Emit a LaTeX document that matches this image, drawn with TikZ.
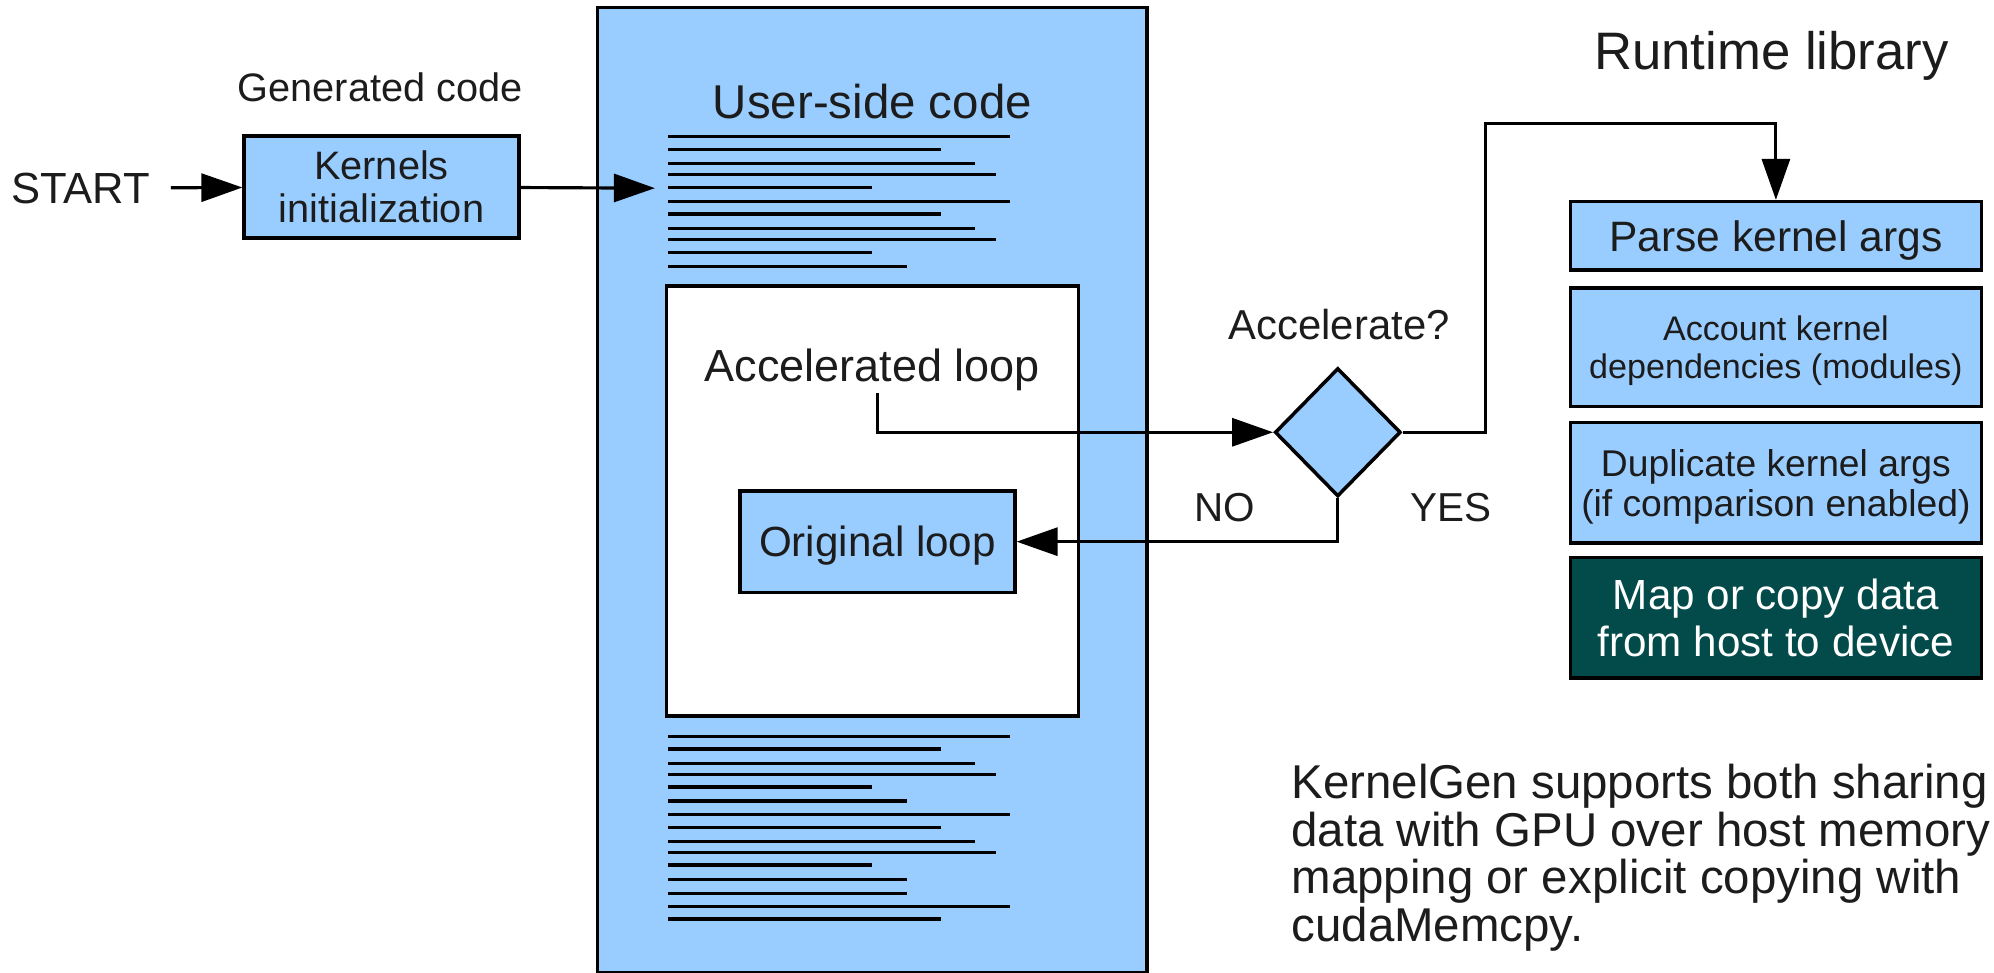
\documentclass[tikz,border=0pt]{standalone}
\usepackage{fontspec}
\setmainfont{Liberation Sans}
\usetikzlibrary{arrows.meta,shapes.geometric}
\definecolor{lightblu}{HTML}{99CCFF}
\definecolor{darkteal}{HTML}{024B4A}
\definecolor{txt}{HTML}{1C1C1C}
\def\fsz#1#2{\fontsize{#1}{#2}\selectfont}
\tikzset{
	blubox/.style={draw, line width=1pt, fill=lightblu, inner sep=0pt, align=center, text=txt},
	lbl/.style={text=txt, inner sep=0pt, align=center},
	arr/.style={-{Triangle[length=4.1mm,width=2.8mm]}, line width=0.9pt},
	codeln/.style={line width=1pt}
}

\begin{document}
\begin{tikzpicture}
		%%%%% START %%%%%
		\useasboundingbox (0, 0) rectangle (19.94, 9.728);
		
		% user-side code
		\draw[line width=1pt, fill=lightblu] (5.977, 0) rectangle (11.471, 9.652);
		\node[lbl, font=\fsz{13.5}{16}] (title) at (8.724, 8.711) {User-side code};
		\draw[line width=1pt, fill=white] (6.664, 2.569) rectangle (10.784, 6.867);
		\foreach \y/\e in {8.361/10.097, 8.232/9.411, 8.092/9.754, 7.981/9.957, 7.851/8.724,
			7.712/10.097, 7.586/9.411, 7.442/9.754, 7.331/9.957, 7.205/8.724, 7.062/9.067,
			2.362/10.097, 2.236/9.411, 2.092/9.754, 1.981/9.957, 1.858/8.724, 1.716/9.067,
			1.582/10.097, 1.455/9.411, 1.311/9.754, 1.202/9.957, 1.076/8.724, 0.932/9.067,
			0.795/9.067, 0.661/10.097, 0.538/9.411}
			\draw[codeln] (6.676, \y) -- (\e, \y);
		
		% generated code
		\node[lbl, font=\fsz{12.4}{14}] (start) at (0.808, 7.846) {START};
		\node[lbl, font=\fsz{11.3}{14}] (gen) at (3.802, 8.851) {Generated code};
		\node[blubox, minimum width=2.747cm, minimum height=1.018cm, font=\fsz{11.3}{12.3}] (kinit) at (3.815, 7.859) {Kernels\\initialization};
		\coordinate (codein) at (6.549, 7.846);
		\draw[arr, shorten <=2mm] (start) -- (kinit);
		\draw[arr] (kinit) -- (codein);
		
		% loops and decision
		\node[lbl, text depth=0pt, font=\fsz{12.8}{15}] (accl) at (8.724, 6.079) {Accelerated loop};
		\coordinate (accfoot) at (8.775, 5.799);
		\node[blubox, text depth=0pt, minimum width=2.747cm, minimum height=1.018cm, font=\fsz{12}{14}] (orig) at (8.775, 4.311) {Original loop};
		\node[draw, line width=1pt, fill=lightblu, diamond, inner sep=0pt, minimum width=1.259cm, minimum height=1.284cm] (dec) at (13.378, 5.405) {};
		\node[lbl, font=\fsz{11.9}{14}] (ask) at (13.391, 6.486) {Accelerate?};
		\node[lbl, font=\fsz{11.5}{14}] (no) at (12.246, 4.654) {NO};
		\node[lbl, font=\fsz{11.5}{14}] (yes) at (14.510, 4.654) {YES};
		\draw[arr] (accfoot) |- (dec.west);
		\draw[arr] (dec.south) |- (orig.east);
		
		% runtime library
		\node[lbl, text depth=0pt, font=\fsz{15}{18}] (rt) at (17.715, 9.220) {Runtime library};
		\node[blubox, text depth=0pt, minimum width=4.108cm, minimum height=0.683cm, font=\fsz{12.1}{14}] (parse) at (17.759, 7.370) {Parse kernel args};
		\node[blubox, text depth=0pt, minimum width=4.108cm, minimum height=1.184cm, font=\fsz{9.7}{10.9}] (account) at (17.759, 6.254) {Account kernel\\dependencies (modules)};
		\node[blubox, text depth=0pt, minimum width=4.108cm, minimum height=1.205cm, font=\fsz{10.6}{11.5}] (dup) at (17.759, 4.899) {Duplicate kernel args\\(if comparison enabled)};
		\node[blubox, fill=darkteal, text=white, minimum width=4.108cm, minimum height=1.207cm, font=\fsz{12}{13.3}] (map) at (17.759, 3.549) {Map or copy data\\from host to device};
		\draw[arr] (dec.east) -| (14.853, 8.489) -| (parse.north);
		
		\node[lbl, align=left, anchor=west, font=\fsz{13.5}{12.4}] (note) at (12.908, 1.151) {KernelGen supports both sharing\\data with GPU over host memory\\mapping or explicit copying with\\cudaMemcpy.};
		%%%%% END %%%%%
	\end{tikzpicture}
\end{document}
